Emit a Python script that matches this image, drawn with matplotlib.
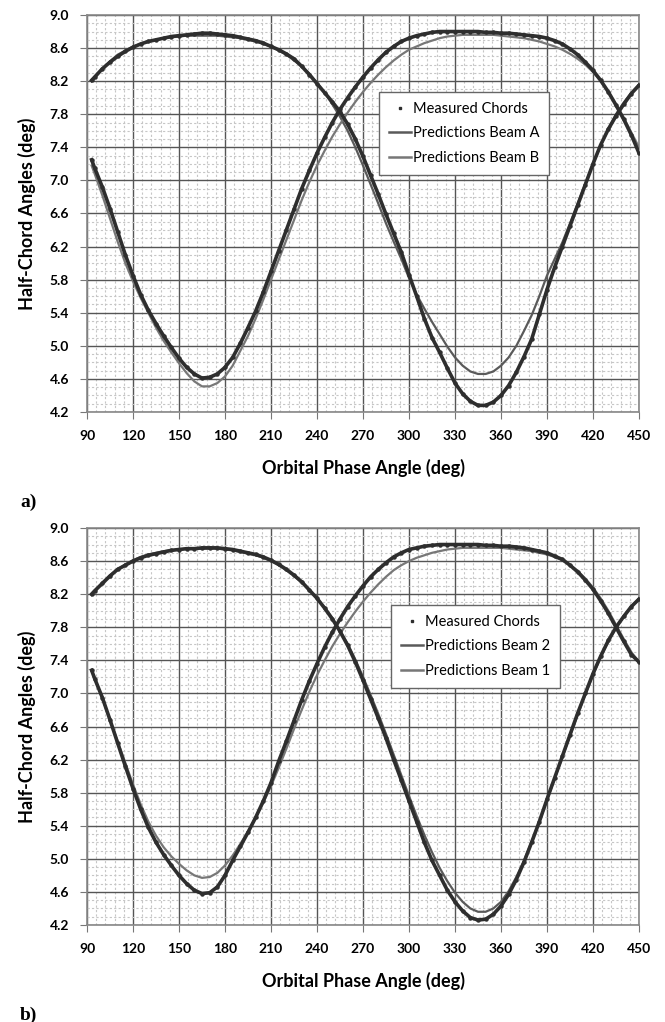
import matplotlib
matplotlib.use("Agg")
import matplotlib.pyplot as plt
import numpy as np
from matplotlib.lines import Line2D
from matplotlib.ticker import MultipleLocator, FormatStrFormatter

plt.rcParams["font.family"] = ["Lato", "DejaVu Sans"]

# orbital phase (deg), shared by every series
phase = [93, 95, 100, 105, 110, 115, 120, 125, 130, 135, 140, 145, 150, 155, 160,
         165, 170, 175, 180, 185, 190, 195, 200, 205, 210, 215, 220, 225, 230, 235,
         240, 245, 250, 255, 260, 265, 270, 275, 280, 285, 290, 295, 300, 305, 310,
         315, 320, 325, 330, 335, 340, 345, 350, 355, 360, 365, 370, 375, 380, 385,
         390, 395, 400, 405, 410, 415, 420, 425, 430, 435, 440, 445, 450]

# panel a
meas1_a = [7.25, 7.15, 6.92, 6.66, 6.38, 6.10, 5.85, 5.62, 5.43, 5.27, 5.12, 4.98, 4.85, 4.74, 4.66,
           4.61, 4.62, 4.66, 4.74, 4.86, 5.03, 5.22, 5.42, 5.65, 5.90, 6.15, 6.40, 6.65, 6.90, 7.12,
           7.33, 7.52, 7.70, 7.86, 8.00, 8.13, 8.25, 8.36, 8.46, 8.55, 8.62, 8.68, 8.72, 8.75, 8.77,
           8.79, 8.80, 8.80, 8.80, 8.80, 8.80, 8.80, 8.79, 8.79, 8.78, 8.78, 8.77, 8.76, 8.75, 8.74,
           8.72, 8.69, 8.65, 8.59, 8.52, 8.43, 8.33, 8.21, 8.07, 7.91, 7.74, 7.55, 7.33]
meas2_a = [8.21, 8.25, 8.35, 8.43, 8.50, 8.56, 8.61, 8.65, 8.68, 8.70, 8.72, 8.74, 8.75, 8.76, 8.77,
           8.78, 8.78, 8.77, 8.76, 8.75, 8.73, 8.71, 8.69, 8.66, 8.62, 8.58, 8.53, 8.47, 8.38, 8.28,
           8.17, 8.06, 7.95, 7.83, 7.68, 7.50, 7.29, 7.06, 6.83, 6.59, 6.36, 6.13, 5.86, 5.60, 5.33,
           5.10, 4.92, 4.73, 4.55, 4.42, 4.33, 4.28, 4.28, 4.32, 4.40, 4.52, 4.68, 4.87, 5.08, 5.38,
           5.68, 5.95, 6.20, 6.45, 6.70, 6.95, 7.20, 7.43, 7.62, 7.78, 7.92, 8.05, 8.15]
pred_beamA = [8.20, 8.24, 8.35, 8.44, 8.52, 8.57, 8.62, 8.65, 8.68, 8.70, 8.72, 8.73, 8.74, 8.75, 8.75,
              8.75, 8.75, 8.75, 8.74, 8.73, 8.72, 8.70, 8.68, 8.65, 8.62, 8.57, 8.52, 8.45, 8.38, 8.29,
              8.18, 8.06, 7.92, 7.77, 7.60, 7.40, 7.18, 6.95, 6.72, 6.48, 6.26, 6.05, 5.82, 5.62, 5.45,
              5.29, 5.14, 4.99, 4.86, 4.76, 4.69, 4.66, 4.66, 4.69, 4.76, 4.86, 5.00, 5.18, 5.37, 5.60,
              5.85, 6.05, 6.25, 6.48, 6.72, 6.96, 7.20, 7.42, 7.62, 7.80, 7.94, 8.06, 8.16]
pred_beamB = [7.18, 7.08, 6.82, 6.54, 6.26, 6.00, 5.78, 5.58, 5.40, 5.22, 5.06, 4.92, 4.79, 4.67, 4.57,
              4.51, 4.51, 4.55, 4.63, 4.76, 4.94, 5.12, 5.33, 5.56, 5.80, 6.04, 6.28, 6.52, 6.76, 6.98,
              7.18, 7.36, 7.53, 7.68, 7.82, 7.95, 8.07, 8.18, 8.28, 8.37, 8.45, 8.52, 8.58, 8.62, 8.66,
              8.69, 8.72, 8.74, 8.75, 8.76, 8.76, 8.76, 8.76, 8.76, 8.75, 8.74, 8.73, 8.72, 8.70, 8.68,
              8.65, 8.62, 8.58, 8.53, 8.47, 8.40, 8.31, 8.20, 8.07, 7.92, 7.76, 7.58, 7.40]

# panel b
meas1_b = [7.28, 7.18, 6.95, 6.68, 6.40, 6.12, 5.85, 5.60, 5.38, 5.20, 5.05, 4.92, 4.80, 4.70, 4.62,
           4.58, 4.59, 4.66, 4.80, 4.98, 5.15, 5.32, 5.50, 5.70, 5.92, 6.18, 6.42, 6.67, 6.92, 7.15,
           7.36, 7.56, 7.74, 7.90, 8.05, 8.18, 8.30, 8.41, 8.50, 8.58, 8.65, 8.70, 8.74, 8.76, 8.78,
           8.79, 8.80, 8.80, 8.80, 8.80, 8.80, 8.80, 8.79, 8.79, 8.78, 8.78, 8.77, 8.76, 8.74, 8.72,
           8.70, 8.66, 8.62, 8.55, 8.47, 8.37, 8.26, 8.12, 7.97, 7.80, 7.63, 7.47, 7.38]
meas2_b = [8.20, 8.24, 8.33, 8.42, 8.50, 8.55, 8.60, 8.64, 8.67, 8.69, 8.71, 8.73, 8.74, 8.75, 8.75,
           8.76, 8.76, 8.76, 8.75, 8.74, 8.72, 8.70, 8.68, 8.65, 8.61, 8.56, 8.50, 8.43, 8.35, 8.25,
           8.15, 8.03, 7.90, 7.75, 7.58, 7.38, 7.16, 6.93, 6.70, 6.46, 6.20, 5.95, 5.70, 5.45, 5.20,
           4.98, 4.80, 4.62, 4.48, 4.37, 4.29, 4.26, 4.27, 4.33, 4.43, 4.57, 4.75, 4.96, 5.20, 5.45,
           5.72, 5.98, 6.24, 6.50, 6.76, 7.00, 7.24, 7.45, 7.64, 7.80, 7.93, 8.05, 8.14]
pred_beam2 = [8.20, 8.24, 8.34, 8.43, 8.50, 8.56, 8.61, 8.65, 8.68, 8.70, 8.72, 8.73, 8.74, 8.75, 8.75,
              8.75, 8.75, 8.75, 8.74, 8.73, 8.71, 8.69, 8.67, 8.64, 8.60, 8.55, 8.49, 8.42, 8.34, 8.25,
              8.15, 8.04, 7.91, 7.76, 7.60, 7.41, 7.20, 6.98, 6.75, 6.51, 6.26, 6.01, 5.76, 5.52, 5.29,
              5.08, 4.89, 4.73, 4.59, 4.48, 4.40, 4.36, 4.36, 4.40, 4.48, 4.61, 4.78, 4.98, 5.21, 5.45,
              5.71, 5.97, 6.23, 6.49, 6.74, 6.99, 7.22, 7.44, 7.63, 7.79, 7.93, 8.05, 8.15]
pred_beam1 = [7.28, 7.18, 6.94, 6.68, 6.42, 6.16, 5.90, 5.66, 5.45, 5.28, 5.14, 5.03, 4.94, 4.86, 4.80,
              4.77, 4.78, 4.83, 4.92, 5.04, 5.18, 5.33, 5.50, 5.68, 5.88, 6.10, 6.33, 6.57, 6.80, 7.02,
              7.22, 7.40, 7.57, 7.72, 7.86, 7.99, 8.11, 8.22, 8.32, 8.41, 8.49, 8.55, 8.60, 8.64, 8.67,
              8.70, 8.72, 8.74, 8.75, 8.76, 8.76, 8.76, 8.76, 8.76, 8.76, 8.75, 8.74, 8.73, 8.72, 8.70,
              8.68, 8.65, 8.61, 8.55, 8.48, 8.39, 8.28, 8.15, 8.00, 7.83, 7.66, 7.50, 7.38]

panels = [
    ("a)", meas1_a, meas2_a, [("Predictions Beam A", pred_beamA), ("Predictions Beam B", pred_beamB)]),
    ("b)", meas1_b, meas2_b, [("Predictions Beam 2", pred_beam2), ("Predictions Beam 1", pred_beam1)]),
]

W, H = 665, 1022
fig = plt.figure(figsize=(W / 100, H / 100), dpi=100)

DOT = "#2e2e2e"
PRED = ["#5a5a5a", "#777777"]

for i, (tag, m1, m2, preds) in enumerate(panels):
    top = 15 if i == 0 else 528
    ax = fig.add_axes([87 / W, 1 - (top + 397) / H, 552 / W, 397 / H])

    for c, (lab, p) in zip(PRED, preds):
        ax.plot(phase, p, color=c, lw=1.6, zorder=3)
    for m in (m1, m2):
        ax.plot(phase, m, color=DOT, lw=2.6, zorder=4)
        ax.plot(phase, m, ls="none", marker="o", ms=2.2, color=DOT, zorder=4)

    ax.set_xlim(90, 450)
    ax.set_ylim(4.2, 9.0)
    ax.set_xticks(np.arange(90, 451, 30))
    ax.set_yticks(np.arange(4.2, 9.01, 0.4))
    ax.xaxis.set_minor_locator(MultipleLocator(6))
    ax.yaxis.set_minor_locator(MultipleLocator(0.1))
    ax.yaxis.set_major_formatter(FormatStrFormatter("%.1f"))
    ax.grid(which="major", color="#555555", lw=1.0, zorder=1)
    ax.grid(which="minor", color="#c6c6c6", lw=0.8, ls=(0, (2, 2)), zorder=0)
    ax.tick_params(which="major", length=5, color="#777777", labelsize=10, pad=8)
    ax.tick_params(which="minor", length=0)
    for lbl in ax.get_xticklabels() + ax.get_yticklabels():
        lbl.set_fontweight("bold")
    for s in ax.spines.values():
        s.set_color("#888888")
        s.set_linewidth(1.2)

    handles = [Line2D([], [], ls="none", marker="s", ms=1.6, color=DOT)]
    handles += [Line2D([], [], color=c, lw=1.8) for c in PRED]
    labels = ["Measured Chords"] + [lab for lab, _ in preds]
    x0 = 0.529 if i == 0 else 0.551
    leg = ax.legend(handles, labels, loc="upper left", bbox_to_anchor=(x0, 0.806),
                    borderaxespad=0, fancybox=False, framealpha=1, edgecolor="#666666",
                    fontsize=10.5, handlelength=1.5, handletextpad=0.1, labelspacing=0.7,
                    borderpad=0.7)
    leg.get_frame().set_linewidth(1.0)
    leg.set_zorder(6)

    ax.set_xlabel("Orbital Phase Angle (deg)", fontsize=13, fontweight="bold", labelpad=12)
    ax.set_ylabel("Half-Chord Angles (deg)", fontsize=13, fontweight="bold", labelpad=10)

    fig.text(20 / W, 1 - (top + 487) / H, tag, family=["Liberation Serif"], fontsize=14,
             fontweight="bold", va="center", ha="left")

fig.savefig("out.png", dpi=100)
